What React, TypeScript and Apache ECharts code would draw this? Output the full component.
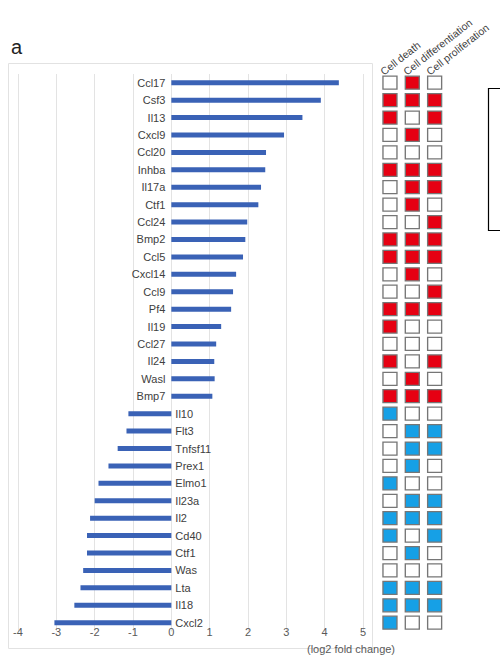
import React, { useEffect, useRef } from "react";
import * as echarts from "echarts";

const genes = [
  "Ccl17", "Csf3", "Il13", "Cxcl9", "Ccl20", "Inhba", "Il17a", "Ctf1", "Ccl24", "Bmp2",
  "Ccl5", "Cxcl14", "Ccl9", "Pf4", "Il19", "Ccl27", "Il24", "Wasl", "Bmp7",
  "Il10", "Flt3", "Tnfsf11", "Prex1", "Elmo1", "Il23a", "Il2", "Cd40", "Ctf1", "Was",
  "Lta", "Il18", "Cxcl2",
];
const foldChange = [
  4.37, 3.9, 3.42, 2.94, 2.47, 2.45, 2.34, 2.27, 1.98, 1.93,
  1.87, 1.69, 1.61, 1.56, 1.3, 1.17, 1.12, 1.13, 1.07,
  -1.12, -1.17, -1.4, -1.64, -1.9, -2.0, -2.12, -2.2, -2.2, -2.3,
  -2.37, -2.53, -3.05,
];
const processes = ["Cell death", "Cell differentiation", "Cell proliferation"];
const cellDeath = [
  0, 1, 1, 0, 0, 1, 0, 0, 0, 1, 1, 0, 0, 1, 1, 0, 1, 0, 1,
  1, 0, 0, 0, 1, 0, 1, 1, 0, 0, 1, 1, 1,
];
const cellDifferentiation = [
  1, 1, 0, 1, 0, 1, 1, 1, 0, 1, 1, 1, 0, 1, 0, 0, 0, 1, 1,
  0, 1, 1, 1, 0, 1, 1, 0, 1, 0, 1, 1, 0,
];
const cellProliferation = [
  0, 1, 1, 0, 0, 1, 1, 0, 1, 1, 1, 0, 1, 1, 0, 0, 1, 0, 1,
  0, 1, 1, 0, 0, 1, 1, 1, 0, 0, 1, 1, 0,
];
const xTicks = { min: -4, max: 5, interval: 1 };
const xAxisTitle = "(log2 fold change)";
const panelLabel = "a";

const RED = "#e60012";
const BLUE = "#16a0e6";
const FONT = "Liberation Sans, Arial, sans-serif";

export default function App() {
  const ref = useRef<HTMLDivElement>(null);
  useEffect(() => {
    if (!ref.current) return;
    const chart = echarts.init(ref.current, null, { renderer: "svg" });
    const gridTop = 74;
    const gridBottom = 655 - 631.4;

    const barData = foldChange.map((v, i) => ({
      value: v,
      label: {
        show: true,
        position: v >= 0 ? "left" : "right",
        distance: v >= 0 ? 6 : 4,
        formatter: genes[i],
        color: "#404040",
        fontSize: 11,
        fontFamily: FONT,
      },
    }));

    const cols = [cellDeath, cellDifferentiation, cellProliferation];
    const heatData: any[] = [];
    cols.forEach((col, c) => {
      col.forEach((on, r) => {
        const fill = on ? (foldChange[r] >= 0 ? RED : BLUE) : "#ffffff";
        heatData.push({
          value: [c, r],
          itemStyle: { color: fill, borderColor: "#767676", borderWidth: 1.3, opacity: 1 },
        });
      });
    });

    const headerStarts = [
      [385, 77],
      [408, 77],
      [431, 77],
    ];

    chart.setOption({
      animation: false,
      backgroundColor: "#ffffff",
      grid: [
        { left: 18, right: 137, top: gridTop, bottom: gridBottom },
        { left: 378.8, width: 67, top: gridTop, bottom: gridBottom },
      ],
      xAxis: [
        {
          type: "value",
          gridIndex: 0,
          min: xTicks.min,
          max: xTicks.max,
          interval: xTicks.interval,
          axisLine: { show: false },
          axisTick: { show: false },
          splitLine: { show: true, lineStyle: { color: "#e3e3e3", width: 1 } },
          axisLabel: { color: "#595959", fontSize: 11, fontFamily: FONT, margin: -5 },
        },
        {
          type: "category",
          gridIndex: 1,
          data: processes,
          show: false,
        },
      ],
      yAxis: [
        {
          type: "category",
          gridIndex: 0,
          data: genes.map((g, i) => g + "#" + i),
          inverse: true,
          axisLine: { show: false },
          axisTick: { show: false },
          axisLabel: { show: false },
          splitLine: { show: false },
        },
        {
          type: "category",
          gridIndex: 1,
          data: genes.map((g, i) => g + "#" + i),
          inverse: true,
          show: false,
        },
      ],
      series: [
        {
          type: "bar",
          xAxisIndex: 0,
          yAxisIndex: 0,
          data: barData,
          barWidth: 5,
          itemStyle: { color: "#3a62b6" },
        },
        {
          type: "scatter",
          xAxisIndex: 1,
          yAxisIndex: 1,
          symbol: "rect",
          symbolSize: [14, 13],
          itemStyle: { opacity: 1 },
          data: heatData,
        },
      ],
      graphic: [
        {
          type: "rect",
          z: -10,
          silent: true,
          shape: { x: 8.5, y: 63.5, width: 364, height: 585 },
          style: { fill: "none", stroke: "#e2e2e2", lineWidth: 1 },
        },
        {
          type: "rect",
          silent: true,
          shape: { x: 488.5, y: 88.5, width: 30, height: 142 },
          style: { fill: "#ffffff", stroke: "#000000", lineWidth: 1.2 },
        },
        {
          type: "text",
          x: 11,
          y: 47,
          style: {
            text: panelLabel,
            fontSize: 20,
            fontFamily: FONT,
            fill: "#222222",
            textAlign: "left",
            textVerticalAlign: "middle",
            align: "left",
            verticalAlign: "middle",
          },
        },
        {
          type: "text",
          x: 351,
          y: 649,
          style: {
            text: xAxisTitle,
            fontSize: 11,
            fontFamily: FONT,
            fill: "#595959",
            textAlign: "center",
            textVerticalAlign: "middle",
            align: "center",
            verticalAlign: "middle",
          },
        },
        ...processes.map((p, i) => ({
          type: "text",
          x: headerStarts[i][0],
          y: headerStarts[i][1],
          rotation: (38 * Math.PI) / 180,
          style: {
            text: p,
            fontSize: 10.5,
            fontFamily: FONT,
            fill: "#404040",
            textAlign: "left",
            textVerticalAlign: "bottom",
            align: "left",
            verticalAlign: "bottom",
          },
        })),
      ],
    });
    return () => chart.dispose();
  }, []);
  return (
    <div
      ref={ref}
      style={{ position: "fixed", left: 0, top: 0, width: 500, height: 655 }}
    />
  );
}
